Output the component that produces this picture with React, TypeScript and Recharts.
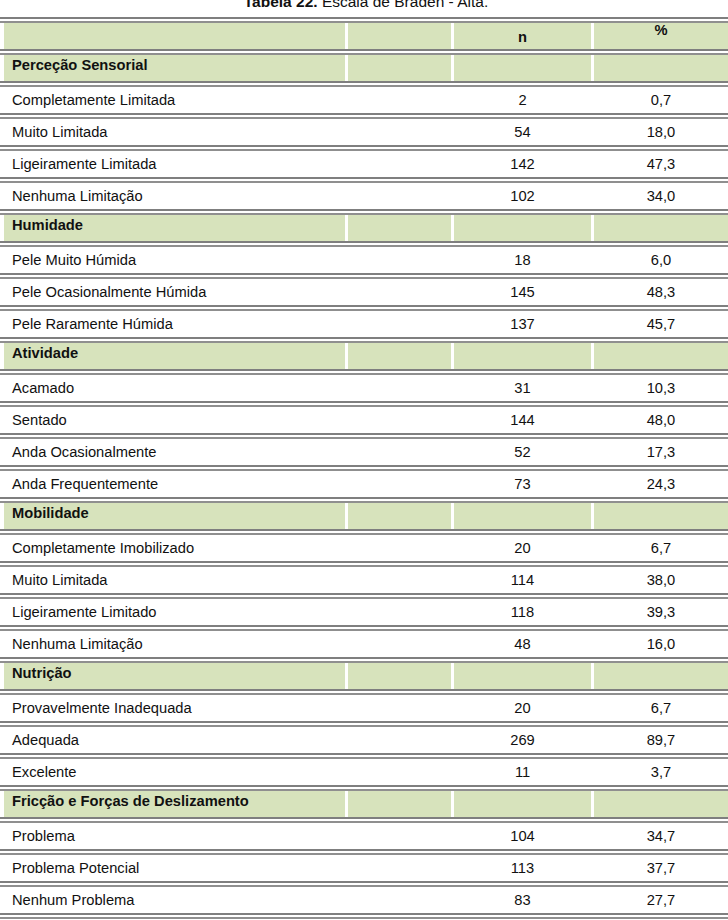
import React from "react";
import { BarChart, Bar, XAxis, YAxis } from "recharts";

const titleBold = "Tabela 22.";
const titleRest = " Escala de Braden - Alta.";
const headerLabels = ["", "", "n", "%"];
const sectionNames = [
  "Perceção Sensorial",
  "Humidade",
  "Atividade",
  "Mobilidade",
  "Nutrição",
  "Fricção e Forças de Deslizamento",
];
const itemLabels = [
  ["Completamente Limitada", "Muito Limitada", "Ligeiramente Limitada", "Nenhuma Limitação"],
  ["Pele Muito Húmida", "Pele Ocasionalmente Húmida", "Pele Raramente Húmida"],
  ["Acamado", "Sentado", "Anda Ocasionalmente", "Anda Frequentemente"],
  ["Completamente Imobilizado", "Muito Limitada", "Ligeiramente Limitado", "Nenhuma Limitação"],
  ["Provavelmente Inadequada", "Adequada", "Excelente"],
  ["Problema", "Problema Potencial", "Nenhum Problema"],
];
const itemN = [
  [2, 54, 142, 102],
  [18, 145, 137],
  [31, 144, 52, 73],
  [20, 114, 118, 48],
  [20, 269, 11],
  [104, 113, 83],
];
const itemPct = [
  [0.7, 18.0, 47.3, 34.0],
  [6.0, 48.3, 45.7],
  [10.3, 48.0, 17.3, 24.3],
  [6.7, 38.0, 39.3, 16.0],
  [6.7, 89.7, 3.7],
  [34.7, 37.7, 27.7],
];

type Row = { id: string; kind: "header" | "group" | "item"; label: string; n: number | null; pct: number | null };

const rows: Row[] = [];
rows.push({ id: "h", kind: "header", label: "", n: null, pct: null });
sectionNames.forEach((s, si) => {
  rows.push({ id: `g${si}`, kind: "group", label: s, n: null, pct: null });
  itemLabels[si].forEach((lab, ii) => {
    rows.push({ id: `i${si}_${ii}`, kind: "item", label: lab, n: itemN[si][ii], pct: itemPct[si][ii] });
  });
});

const W = 728;
const H = 920;
const MT = 20;
const MB = 4;
const YW = 4;
const BAND = (H - MT - MB) / rows.length;
const FONT = "'Liberation Sans', Arial, sans-serif";
const FS = 14.7;
const GREEN = "#d7e3bc";
const LINE = "#555555";
const COLS: [number, number][] = [
  [4, 345],
  [348, 451],
  [454, 591],
  [594, 728],
];
const fmt = (v: number) => v.toFixed(1).replace(".", ",");

const renderRow = (props: any) => {
  const { y, payload, index } = props;
  const idx = payload?.index ?? index ?? 0;
  const row = rows[idx];
  if (!row) return <g />;
  const top = y - BAND / 2;
  const bottom = y + BAND / 2;
  const isLast = idx === rows.length - 1;
  const lines = (yy: number, k: string) => (
    <g key={k}>
      <line x1={0} x2={W} y1={yy - 2} y2={yy - 2} stroke={LINE} strokeWidth={1.3} />
      <line x1={0} x2={W} y1={yy + 2} y2={yy + 2} stroke="#6a6a6a" strokeWidth={1.3} />
    </g>
  );
  const green = row.kind !== "item";
  return (
    <g>
      {green &&
        COLS.map(([a, b], ci) => (
          <rect key={ci} x={a} y={top + 3} width={b - a} height={bottom - top - 6} fill={GREEN} />
        ))}
      {lines(top, "t")}
      {isLast && lines(bottom, "b")}
      {row.kind === "header" && (
        <g fontFamily={FONT} fontSize={FS} fontWeight="bold" fill="#111" textAnchor="middle">
          <text x={(COLS[2][0] + COLS[2][1]) / 2} y={y + 6}>{headerLabels[2]}</text>
          <text x={(COLS[3][0] + COLS[3][1]) / 2} y={y - 1}>{headerLabels[3]}</text>
        </g>
      )}
      {row.kind === "group" && (
        <text x={12} y={top + 18} fontFamily={FONT} fontSize={FS} fontWeight="bold" fill="#111">
          {row.label}
        </text>
      )}
      {row.kind === "item" && (
        <g fontFamily={FONT} fontSize={FS} fill="#111">
          <text x={12} y={y + 5}>{row.label}</text>
          <text x={(COLS[2][0] + COLS[2][1]) / 2} y={y + 5} textAnchor="middle">{row.n}</text>
          <text x={(COLS[3][0] + COLS[3][1]) / 2} y={y + 5} textAnchor="middle">
            {row.pct != null ? fmt(row.pct) : ""}
          </text>
        </g>
      )}
    </g>
  );
};

export default function App() {
  return (
    <div style={{ position: "absolute", left: 0, top: 0, width: W, height: H, background: "#fff", overflow: "hidden" }}>
      <div style={{ position: "absolute", left: 0, top: 0 }}>
        <BarChart
          width={W}
          height={H}
          data={rows}
          layout="vertical"
          margin={{ top: MT, right: 0, bottom: MB, left: 0 }}
          barCategoryGap={0}
        >
          <XAxis type="number" hide domain={[0, 300]} />
          <YAxis
            type="category"
            dataKey="id"
            width={YW}
            axisLine={false}
            tickLine={false}
            interval={0}
            tick={renderRow}
          />
          <Bar dataKey="n" fill="none" isAnimationActive={false} />
        </BarChart>
      </div>
      <svg width={W} height={20} style={{ position: "absolute", left: 0, top: 0 }}>
        <text x={W / 2 + 2} y={6.5} textAnchor="middle" fontFamily={FONT} fontSize={15.5} fill="#111">
          <tspan fontWeight="bold">{titleBold}</tspan>
          <tspan>{titleRest}</tspan>
        </text>
      </svg>
    </div>
  );
}
